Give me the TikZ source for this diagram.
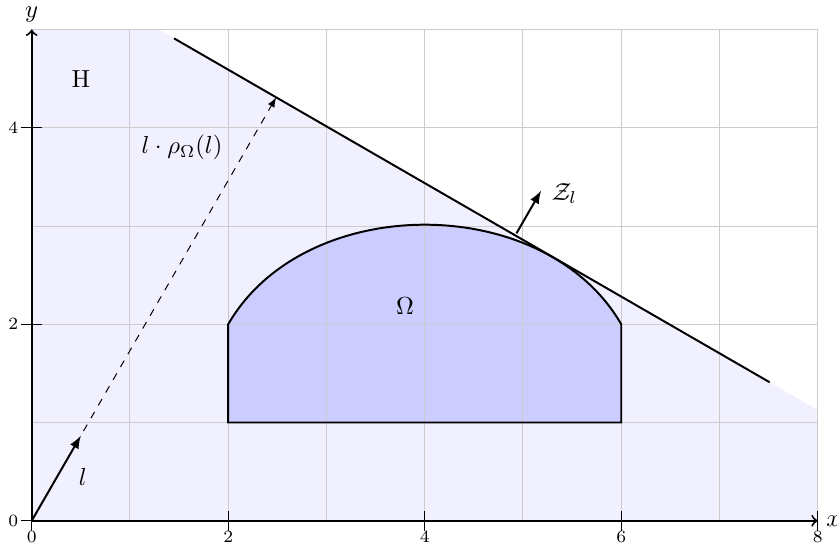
\documentclass[tikz,border=0pt]{standalone}
\usetikzlibrary{calc}
\begin{document}
\begin{tikzpicture}[x=1.4cm,y=1.4cm,
  gridline/.style={black!20, line width=0.4pt},
  axisline/.style={thick, ->},
  tickmark/.style={line width=0.5pt},
  ticklab/.style={font=\scriptsize, inner sep=0pt},
  bigline/.style={thick},
  vecarrow/.style={thick, -latex},
  halfplane/.style={fill=blue!6},
  omegafill/.style={fill=blue!20}]
\useasboundingbox (-0.3227,-0.298) rectangle (8.196,5.30);
% key points
\coordinate (O) at (0,0);
\coordinate (X) at (8,0);
\coordinate (Y) at (0,5);
\coordinate (P) at (60:4.976);
\coordinate (L1) at ($(P)+(150:1.2)$);
\coordinate (L2) at ($(P)+(-30:5.8)$);
\coordinate (Lv) at (60:1);
\coordinate (Zs) at (4.934,2.926);
\coordinate (Ze) at ($(Zs)+(60:0.5)$);
% half-plane H
\path[halfplane] (0,0) -- (8,0) -- (8,1.127) -- (1.292,5) -- (0,5) -- cycle;
% Omega fill
\path[omegafill] (2,1) -- (6,1) -- (6,2) to[out=120, in=60] (2,2) -- cycle;
% grid
\draw[gridline, step={(1,1)}] (0,0) grid (8,5);
% Omega outline
\draw[bigline] (2,1) -- (6,1) -- (6,2) to[out=120, in=60] (2,2) -- cycle;
% supporting line
\draw[bigline] (L1) -- (L2);
% axes
\draw[axisline] (O) -- (X);
\draw[axisline] (O) -- (Y);
\node (xl) at (8,0) [right] {$x$};
\node (yl) at (0,5.15) {$y$};
% ticks
\foreach \t in {0,2,4,6,8} {
  \draw[tickmark] (\t,-0.1) -- (\t,0.1);
  \node[ticklab] (xt\t) at (\t,-0.166) {\t};
}
\foreach \t in {0,2,4} {
  \draw[tickmark] (-0.11,\t) -- (0.1,\t);
  \node[ticklab] (yt\t) at (-0.187,\t) {\t};
}
% vectors
\draw[thin, dashed, -latex] (O) -- (P);
\draw[vecarrow] (O) -- (Lv);
\draw[vecarrow] (Zs) -- (Ze);
% labels
\node (H) at (0.5,4.496) {H};
\node (rho) at (1.53,3.8) {$l\cdot\rho_\Omega(l)$};
\node (Om) at (3.8,2.19) {$\Omega$};
\node (ll) at (0.52,0.45) {$l$};
\node (Zl) at (5.42,3.33) {$\mathcal{Z}_l$};
\end{tikzpicture}
\end{document}
